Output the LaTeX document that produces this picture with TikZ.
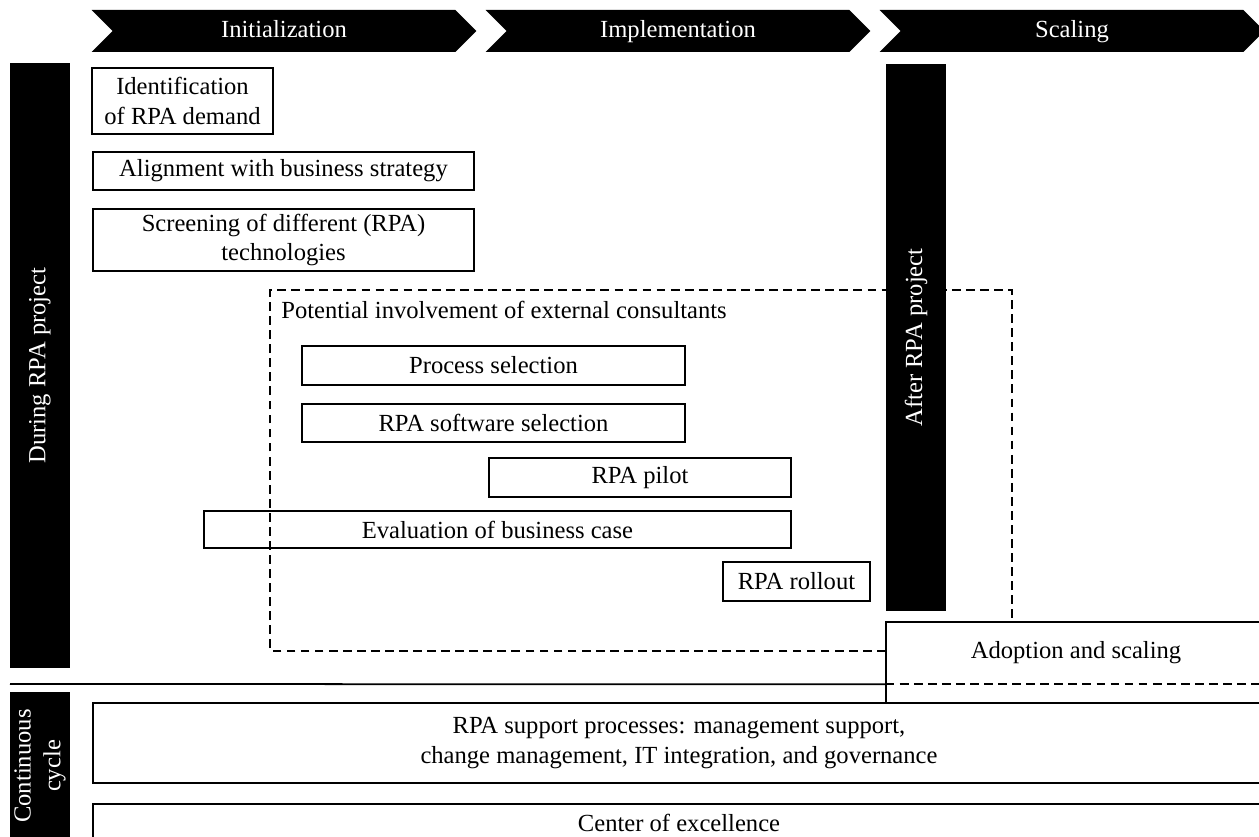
\documentclass[tikz,border=0pt]{standalone}
\usepackage{fontspec}
\setmainfont{Liberation Serif}
\usetikzlibrary{positioning,shapes.symbols}

\begin{document}
\begin{tikzpicture}[
    x=0.02cm, y=-0.02cm,
    font=\fontsize{14}{17}\selectfont,
    box/.style={draw, line width=1pt, align=center, inner sep=0pt},
    bar/.style={fill=black, text=white, rotate=90, align=center, inner sep=0pt, minimum height=1.2cm},
    phase/.style={signal, signal to=east, signal from=west, signal pointer angle=90, fill=black, text=white, minimum width=7.7cm, minimum height=0.84cm, inner sep=0pt, text height=10pt, text depth=3pt},
    guide/.style={line width=1pt, dash pattern=on 5pt off 3pt}
]
\useasboundingbox (0,0) rectangle (1259,837);
\clip (0,0) rectangle (1259,837);

% phase chevrons along the top
\foreach \name/\lbl [count=\i] in {init/Initialization, impl/Implementation, scal/Scaling}
    \node[phase] (\name) at ({284+(\i-1)*394}, 31) {\lbl};

% black side bars
\node[bar, minimum width=12.1cm] (during) at (40,365.5) {During RPA project};
\node[bar, minimum width=10.94cm] (after) at (916,337.5) {After RPA project};
\node[bar, minimum width=2.96cm] (cycle) at (40,766) {Continuous\\cycle};

% activity boxes
\node[box, minimum width=3.62cm, minimum height=1.32cm] (demand) at (182.5,101) {Identification\\of RPA demand};
\node[box, minimum width=7.62cm, minimum height=0.76cm] (strategy) at (283.5,171) {Alignment with business strategy};
\node[box, minimum width=7.62cm, minimum height=1.24cm] (screen) at (283.5,240) {Screening of different (RPA)\\technologies};
\node[anchor=west, inner sep=0pt] (consult) at (281,310) {Potential involvement of external consultants};
\node[box, minimum width=7.66cm, minimum height=0.78cm] (procsel) at (493.5,365.5) {Process selection};
\node[box, minimum width=7.66cm, minimum height=0.76cm] (softsel) at (493.5,423) {RPA software selection};
\node[box, minimum width=6.04cm, minimum height=0.78cm] (pilot) at (640,477.5) {RPA pilot};
\node[box, minimum width=11.74cm, minimum height=0.74cm] (bizcase) at (497.5,529.5) {Evaluation of business case};
\node[box, minimum width=2.94cm, minimum height=0.78cm] (rollout) at (796.5,581.5) {RPA rollout};
\node[inner sep=0pt, minimum width=7.6cm, minimum height=1.24cm] (adopt) at (1076,653) {Adoption and scaling};
\node[box, minimum width=23.44cm, minimum height=1.6cm] (support) at (679,743) {RPA support processes: management support,\\change management, IT integration, and governance};
\node[box, minimum width=23.44cm, minimum height=0.76cm] (excel) at (679,823) {Center of excellence};

% dashed frame of the consultants, ending at the adoption box
\draw[guide] (adopt.west |- 270,651) -- (270,651) -- (270,290) -- (1012,290) -- (1012,290 |- adopt.north);

% separator and open adoption box
\draw[line width=1pt] (10,684) -- (adopt.south west);
\draw[guide] (adopt.south west) -- (adopt.south east);
\draw[line width=1pt] (adopt.south west |- support.north) -- (adopt.north west) -- (adopt.north east);
\end{tikzpicture}
\end{document}
